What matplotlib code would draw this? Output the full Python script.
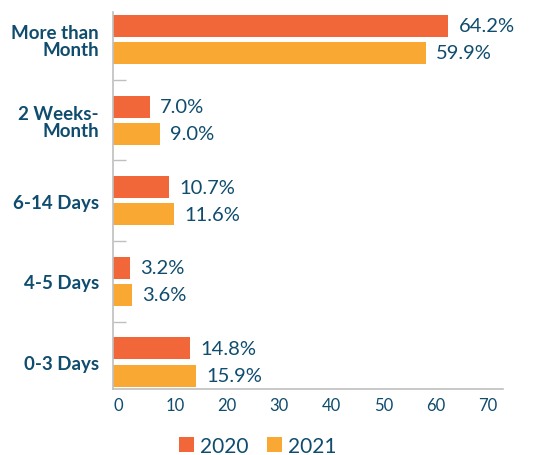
import numpy as np
import matplotlib.pyplot as plt

categories = ["More than\nMonth", "2 Weeks-\nMonth", "6-14 Days", "4-5 Days", "0-3 Days"]
vals_2020 = [64.2, 7.0, 10.7, 3.2, 14.8]
vals_2021 = [59.9, 9.0, 11.6, 3.6, 15.9]
series = ["2020", "2021"]
xticks = [0, 10, 20, 30, 40, 50, 60, 70]

c2020 = "#F26739"
c2021 = "#F9A833"
txt = "#0F4C6E"
gray = "#BFBFBF"

plt.rcParams['font.family'] = ['Lato', 'DejaVu Sans']

fig = plt.figure(figsize=(5.49, 4.56), dpi=100)
ax = fig.add_axes([113 / 549, 1 - 390 / 456, 390 / 549, 377 / 456])

y = np.arange(len(categories))
h = 0.273
off = 0.168
b1 = ax.barh(y - off, vals_2020, height=h, color=c2020, label=series[0])
b2 = ax.barh(y + off, vals_2021, height=h, color=c2021, label=series[1])

for bars, vals in [(b1, vals_2020), (b2, vals_2021)]:
    for bar, v in zip(bars, vals):
        ax.text(v + 2.0, bar.get_y() + bar.get_height() / 2, f"{v:.1f}%",
                va='center', ha='left', fontsize=14.5, color=txt)

ax.set_xlim(0, 74.7)
ax.set_ylim(4.335, -0.34)
ax.set_yticks(y)
ax.set_yticklabels(categories, fontsize=13.5, fontweight='bold', color=txt,
                   linespacing=1.0)
ax.set_yticks(np.arange(0.5, len(categories) - 0.5), minor=True)
ax.tick_params(axis='y', which='major', length=0, pad=10)
ax.tick_params(axis='y', which='minor', direction='in', length=9, color=gray, width=1)

ax.set_xticks(xticks)
ax.set_xticklabels([str(t) for t in xticks], fontsize=12, color=txt, ha='left')
ax.tick_params(axis='x', length=0, pad=6)

for s in ['top', 'right']:
    ax.spines[s].set_visible(False)
for s in ['left', 'bottom']:
    ax.spines[s].set_color(gray)
    ax.spines[s].set_linewidth(1.2)

leg = fig.legend(handles=[b1, b2], loc='center', bbox_to_anchor=(258 / 549, 1 - 447 / 456),
                 ncol=2, frameon=False, fontsize=15, handlelength=0.7, handleheight=0.7,
                 handletextpad=0.3, columnspacing=0.9)
for t in leg.get_texts():
    t.set_color(txt)

fig.savefig("out.png", dpi=100)
